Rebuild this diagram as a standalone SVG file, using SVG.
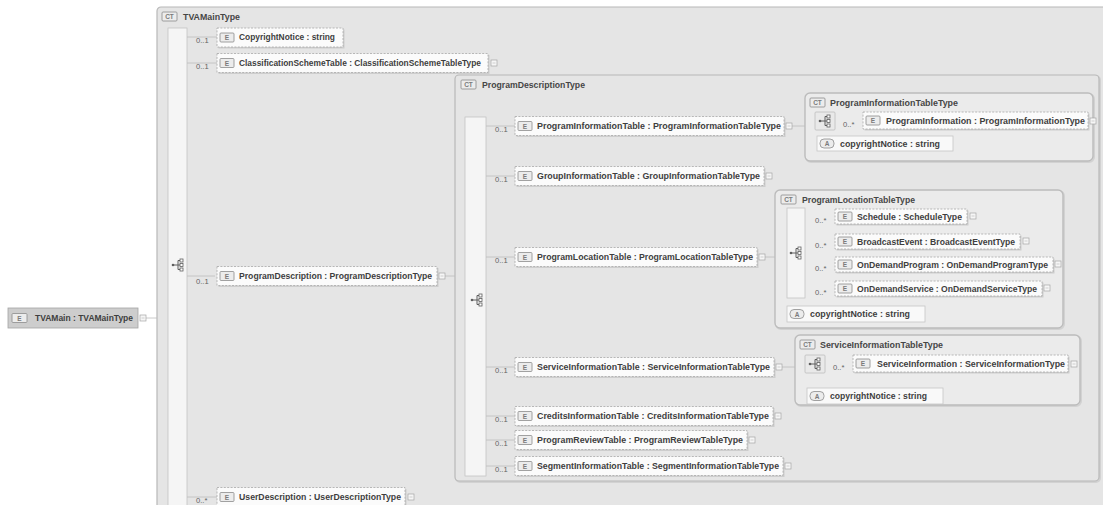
<svg xmlns="http://www.w3.org/2000/svg" xmlns:xlink="http://www.w3.org/1999/xlink" width="1103" height="505" viewBox="0 0 1103 505">
<defs>
<style>
.ct{fill:#e5e5e5;stroke:#b8b8b8;stroke-width:1.2}
.ctn{fill:#ebebeb;stroke:#bcbcbc;stroke-width:1.4}
.csh{fill:none;stroke:#d2d2d2;stroke-width:2}
.bar{fill:#f5f5f5;stroke:#c4c4c4;stroke-width:0.8}
.el{fill:#fbfbfb;stroke:#a8a8a8;stroke-width:0.8;stroke-dasharray:2 1.4}
.sh{fill:#cdcdcd}
.at{fill:#f9f9f9;stroke:#c6c6c6;stroke-width:0.8}
.ic{fill:#ececec;stroke:#8c8c8c;stroke-width:0.8}
.root{fill:#cdcdcd;stroke:#a4a4a4;stroke-width:0.8}
.t{font-family:"Liberation Sans",Arial,sans-serif;font-weight:bold;font-size:8.2px;fill:#3e3e3e}
.h{font-family:"Liberation Sans",Arial,sans-serif;font-weight:bold;font-size:8.2px;fill:#464646}
.ti{font-family:"Liberation Sans",Arial,sans-serif;font-weight:bold;font-size:6.5px;fill:#7a7a7a;text-anchor:middle}
.m{font-family:"Liberation Sans",Arial,sans-serif;font-size:7.6px;fill:#626262}
.ln{stroke:#bdbdbd;stroke-width:0.8;fill:none}
.sq{fill:#f6f6f6;stroke:#a5a5a5;stroke-width:0.7}
.sqi{stroke:#b5b5b5;stroke-width:0.6}
.si{fill:#e9e9e9;stroke:#bcbcbc;stroke-width:0.8}
</style>
<symbol id="exp" overflow="visible">
<rect class="sq" x="0" y="0" width="6" height="6"/>
<path class="sqi" d="M1.5 3H4.5"/>
</symbol>
<symbol id="seq" overflow="visible">
<circle cx="-5" cy="0" r="1.3" fill="#5e5e5e"/>
<path d="M-5 0H0M0 -4.5V4.5M0 -4.5H2M0 0H2M0 4.5H2" stroke="#5e5e5e" stroke-width="1" fill="none"/>
<rect x="2" y="-6" width="3" height="3" fill="#fff" stroke="#5e5e5e" stroke-width="0.8"/>
<rect x="2" y="-1.5" width="3" height="3" fill="#fff" stroke="#5e5e5e" stroke-width="0.8"/>
<rect x="2" y="3" width="3" height="3" fill="#fff" stroke="#5e5e5e" stroke-width="0.8"/>
</symbol>
</defs>

<rect width="1103" height="505" fill="#ffffff"/>

<!-- Complex type containers -->
<g id="ct-tvamaintype">
<rect class="ct" x="157" y="7" width="960" height="510" rx="4"/>
<rect class="ic" x="162" y="12" width="15" height="9" rx="1"/>
<text class="ti" x="169.5" y="19">CT</text>
<text class="h" x="183" y="20" textLength="57" lengthAdjust="spacingAndGlyphs">TVAMainType</text>
<rect class="bar" x="168" y="28" width="19" height="490"/>
<use xlink:href="#seq" x="178" y="265"/>
</g>

<g id="ct-programdescriptiontype">
<rect class="csh" x="456" y="76" width="644" height="406" rx="4"/>
<rect class="ct" x="455" y="75" width="644" height="406" rx="4"/>
<rect class="ic" x="461" y="80" width="15" height="9" rx="1"/>
<text class="ti" x="468.5" y="87">CT</text>
<text class="h" x="482" y="88" textLength="103" lengthAdjust="spacingAndGlyphs">ProgramDescriptionType</text>
<rect class="bar" x="465" y="117" width="21" height="359"/>
<use xlink:href="#seq" x="477" y="300"/>
</g>

<!-- Connectors -->
<g id="connectors">
<path class="ln" d="M146 318H157"/>
<path class="ln" d="M187 37H217M187 63H217M187 276H215M187 497H217"/>
<path class="ln" d="M445 276H455"/>
<path class="ln" d="M486 126H515M486 176H515M486 257H515M486 367H515M486 416H515M486 440H515M486 466H515"/>
<path class="ln" d="M792 126H805"/>
<path class="ln" d="M765 257H775"/>
<path class="ln" d="M782 367H795"/>
<path class="ln" d="M835 121H863M805 143H817"/>
<path class="ln" d="M805 217H835M805 242H835M805 265H835M805 289H835M775 314H787"/>
<path class="ln" d="M825 364H853M795 396H807"/>
</g>

<!-- Root element -->
<g id="n-tvamain">
<rect class="root" x="8" y="308" width="130" height="20"/>
<rect class="ic" x="12" y="313.5" width="15" height="9" rx="1"/>
<text class="ti" x="19.5" y="320.5">E</text>
<text class="t" x="35" y="321" textLength="98" lengthAdjust="spacingAndGlyphs">TVAMain : TVAMainType</text>
<use xlink:href="#exp" x="140" y="315"/>
</g>

<!-- TVAMainType children -->
<g id="n-copyrightnotice">
<text class="m" x="196" y="43">0..1</text>
<rect class="sh" x="218.5" y="29.5" width="126" height="19"/>
<rect class="el" x="217" y="28" width="126" height="19"/>
<rect class="ic" x="220" y="33" width="14" height="9" rx="1"/>
<text class="ti" x="227" y="40">E</text>
<text class="t" x="239" y="40" textLength="96" lengthAdjust="spacingAndGlyphs">CopyrightNotice : string</text>
</g>

<g id="n-classificationschemetable">
<text class="m" x="196" y="69">0..1</text>
<rect class="sh" x="218.5" y="55" width="271" height="19"/>
<rect class="el" x="217" y="53.5" width="271" height="19"/>
<rect class="ic" x="220" y="58.5" width="14" height="9" rx="1"/>
<text class="ti" x="227" y="65.5">E</text>
<text class="t" x="239" y="66" textLength="242" lengthAdjust="spacingAndGlyphs">ClassificationSchemeTable : ClassificationSchemeTableType</text>
<use xlink:href="#exp" x="491" y="60"/>
</g>

<g id="n-programdescription">
<text class="m" x="196" y="284">0..1</text>
<rect class="sh" x="218.5" y="268" width="220" height="19"/>
<rect class="el" x="217" y="266.5" width="220" height="19"/>
<rect class="ic" x="220" y="271.5" width="14" height="9" rx="1"/>
<text class="ti" x="227" y="278.5">E</text>
<text class="t" x="239" y="279" textLength="193" lengthAdjust="spacingAndGlyphs">ProgramDescription : ProgramDescriptionType</text>
<use xlink:href="#exp" x="439" y="273"/>
</g>

<g id="n-userdescription">
<text class="m" x="196" y="503">0..*</text>
<rect class="sh" x="218.5" y="489" width="188" height="19"/>
<rect class="el" x="217" y="487.5" width="188" height="19"/>
<rect class="ic" x="220" y="492.5" width="14" height="9" rx="1"/>
<text class="ti" x="227" y="499.5">E</text>
<text class="t" x="239" y="500" textLength="162" lengthAdjust="spacingAndGlyphs">UserDescription : UserDescriptionType</text>
<use xlink:href="#exp" x="408" y="494"/>
</g>

<!-- ProgramDescriptionType children -->
<g id="n-programinformationtable">
<text class="m" x="495" y="132">0..1</text>
<rect class="sh" x="516.5" y="118" width="269" height="19"/>
<rect class="el" x="515" y="116.5" width="269" height="19"/>
<rect class="ic" x="518" y="121.5" width="14" height="9" rx="1"/>
<text class="ti" x="525" y="128.5">E</text>
<text class="t" x="537" y="129" textLength="244" lengthAdjust="spacingAndGlyphs">ProgramInformationTable : ProgramInformationTableType</text>
<use xlink:href="#exp" x="786" y="123"/>
</g>

<g id="n-groupinformationtable">
<text class="m" x="495" y="182">0..1</text>
<rect class="sh" x="516.5" y="168" width="249" height="19"/>
<rect class="el" x="515" y="166.5" width="249" height="19"/>
<rect class="ic" x="518" y="171.5" width="14" height="9" rx="1"/>
<text class="ti" x="525" y="178.5">E</text>
<text class="t" x="537" y="179" textLength="223" lengthAdjust="spacingAndGlyphs">GroupInformationTable : GroupInformationTableType</text>
<use xlink:href="#exp" x="766" y="173"/>
</g>

<g id="n-programlocationtable">
<text class="m" x="495" y="263">0..1</text>
<rect class="sh" x="516.5" y="249" width="242" height="19"/>
<rect class="el" x="515" y="247.5" width="242" height="19"/>
<rect class="ic" x="518" y="252.5" width="14" height="9" rx="1"/>
<text class="ti" x="525" y="259.5">E</text>
<text class="t" x="537" y="260" textLength="216" lengthAdjust="spacingAndGlyphs">ProgramLocationTable : ProgramLocationTableType</text>
<use xlink:href="#exp" x="759" y="254"/>
</g>

<g id="n-serviceinformationtable">
<text class="m" x="495" y="373">0..1</text>
<rect class="sh" x="516.5" y="359" width="259" height="19"/>
<rect class="el" x="515" y="357.5" width="259" height="19"/>
<rect class="ic" x="518" y="362.5" width="14" height="9" rx="1"/>
<text class="ti" x="525" y="369.5">E</text>
<text class="t" x="537" y="370" textLength="233" lengthAdjust="spacingAndGlyphs">ServiceInformationTable : ServiceInformationTableType</text>
<use xlink:href="#exp" x="776" y="364"/>
</g>

<g id="n-creditsinformationtable">
<text class="m" x="495" y="422">0..1</text>
<rect class="sh" x="516.5" y="408" width="258" height="19"/>
<rect class="el" x="515" y="406.5" width="258" height="19"/>
<rect class="ic" x="518" y="411.5" width="14" height="9" rx="1"/>
<text class="ti" x="525" y="418.5">E</text>
<text class="t" x="537" y="419" textLength="232" lengthAdjust="spacingAndGlyphs">CreditsInformationTable : CreditsInformationTableType</text>
<use xlink:href="#exp" x="775" y="413"/>
</g>

<g id="n-programreviewtable">
<text class="m" x="495" y="446">0..1</text>
<rect class="sh" x="516.5" y="432" width="232" height="19"/>
<rect class="el" x="515" y="430.5" width="232" height="19"/>
<rect class="ic" x="518" y="435.5" width="14" height="9" rx="1"/>
<text class="ti" x="525" y="442.5">E</text>
<text class="t" x="537" y="443" textLength="206" lengthAdjust="spacingAndGlyphs">ProgramReviewTable : ProgramReviewTableType</text>
<use xlink:href="#exp" x="749" y="437"/>
</g>

<g id="n-segmentinformationtable">
<text class="m" x="495" y="472">0..1</text>
<rect class="sh" x="516.5" y="458" width="268" height="19"/>
<rect class="el" x="515" y="456.5" width="268" height="19"/>
<rect class="ic" x="518" y="461.5" width="14" height="9" rx="1"/>
<text class="ti" x="525" y="468.5">E</text>
<text class="t" x="537" y="469" textLength="242" lengthAdjust="spacingAndGlyphs">SegmentInformationTable : SegmentInformationTableType</text>
<use xlink:href="#exp" x="785" y="463"/>
</g>

<!-- ProgramInformationTableType -->
<g id="ct-programinformationtabletype">
<rect class="csh" x="806" y="94" width="288" height="68" rx="5"/>
<rect class="ctn" x="805" y="93" width="288" height="68" rx="5"/>
<rect class="ic" x="810" y="98" width="15" height="9" rx="1"/>
<text class="ti" x="817.5" y="105">CT</text>
<text class="h" x="830" y="106" textLength="128" lengthAdjust="spacingAndGlyphs">ProgramInformationTableType</text>
<rect class="si" x="815" y="112" width="20" height="18" rx="1"/>
<use xlink:href="#seq" x="825" y="121"/>
</g>
<g id="n-programinformation">
<text class="m" x="843" y="127">0..*</text>
<rect class="sh" x="864.5" y="113.5" width="225" height="17"/>
<rect class="el" x="863" y="112" width="225" height="17"/>
<rect class="ic" x="866" y="116" width="14" height="9" rx="1"/>
<text class="ti" x="873" y="123">E</text>
<text class="t" x="886" y="123.5" textLength="199" lengthAdjust="spacingAndGlyphs">ProgramInformation : ProgramInformationType</text>
<use xlink:href="#exp" x="1090" y="118"/>
</g>
<g id="a-pitt-copyrightnotice">
<rect class="at" x="817" y="136" width="136" height="15"/>
<rect class="ic" x="820" y="139" width="14" height="9" rx="4"/>
<text class="ti" x="827" y="146">A</text>
<text class="t" x="840" y="146.5" textLength="100" lengthAdjust="spacingAndGlyphs">copyrightNotice : string</text>
</g>

<!-- ProgramLocationTableType -->
<g id="ct-programlocationtabletype">
<rect class="csh" x="776" y="191" width="288" height="138" rx="5"/>
<rect class="ctn" x="775" y="190" width="288" height="138" rx="5"/>
<rect class="ic" x="781" y="195" width="15" height="9" rx="1"/>
<text class="ti" x="788.5" y="202">CT</text>
<text class="h" x="802" y="203" textLength="113" lengthAdjust="spacingAndGlyphs">ProgramLocationTableType</text>
<rect class="bar" x="787" y="208" width="18" height="90"/>
<use xlink:href="#seq" x="796" y="253"/>
</g>
<g id="n-schedule">
<text class="m" x="815" y="223">0..*</text>
<rect class="sh" x="836.5" y="210.5" width="132" height="15"/>
<rect class="el" x="835" y="209" width="132" height="15"/>
<rect class="ic" x="838" y="212" width="14" height="9" rx="1"/>
<text class="ti" x="845" y="219">E</text>
<text class="t" x="857" y="219.5" textLength="105" lengthAdjust="spacingAndGlyphs">Schedule : ScheduleType</text>
<use xlink:href="#exp" x="970" y="213"/>
</g>
<g id="n-broadcastevent">
<text class="m" x="815" y="248">0..*</text>
<rect class="sh" x="836.5" y="235.5" width="185" height="15"/>
<rect class="el" x="835" y="234" width="185" height="15"/>
<rect class="ic" x="838" y="237" width="14" height="9" rx="1"/>
<text class="ti" x="845" y="244">E</text>
<text class="t" x="857" y="244.5" textLength="158" lengthAdjust="spacingAndGlyphs">BroadcastEvent : BroadcastEventType</text>
<use xlink:href="#exp" x="1023" y="238"/>
</g>
<g id="n-ondemandprogram">
<text class="m" x="815" y="271">0..*</text>
<rect class="sh" x="836.5" y="258.5" width="218" height="15"/>
<rect class="el" x="835" y="257" width="218" height="15"/>
<rect class="ic" x="838" y="260" width="14" height="9" rx="1"/>
<text class="ti" x="845" y="267">E</text>
<text class="t" x="857" y="267.5" textLength="191" lengthAdjust="spacingAndGlyphs">OnDemandProgram : OnDemandProgramType</text>
<use xlink:href="#exp" x="1055" y="261"/>
</g>
<g id="n-ondemandservice">
<text class="m" x="815" y="295">0..*</text>
<rect class="sh" x="836.5" y="282.5" width="207" height="15"/>
<rect class="el" x="835" y="281" width="207" height="15"/>
<rect class="ic" x="838" y="284" width="14" height="9" rx="1"/>
<text class="ti" x="845" y="291">E</text>
<text class="t" x="857" y="291.5" textLength="180" lengthAdjust="spacingAndGlyphs">OnDemandService : OnDemandServiceType</text>
<use xlink:href="#exp" x="1044" y="285"/>
</g>
<g id="a-pltt-copyrightnotice">
<rect class="at" x="787" y="306" width="138" height="16"/>
<rect class="ic" x="790" y="309.5" width="14" height="9" rx="4"/>
<text class="ti" x="797" y="316.5">A</text>
<text class="t" x="810" y="317" textLength="100" lengthAdjust="spacingAndGlyphs">copyrightNotice : string</text>
</g>

<!-- ServiceInformationTableType -->
<g id="ct-serviceinformationtabletype">
<rect class="csh" x="796" y="336" width="285" height="70" rx="5"/>
<rect class="ctn" x="795" y="335" width="285" height="70" rx="5"/>
<rect class="ic" x="800" y="340" width="15" height="9" rx="1"/>
<text class="ti" x="807.5" y="347">CT</text>
<text class="h" x="820" y="347.5" textLength="123" lengthAdjust="spacingAndGlyphs">ServiceInformationTableType</text>
<rect class="si" x="805" y="355" width="20" height="18" rx="1"/>
<use xlink:href="#seq" x="815" y="364"/>
</g>
<g id="n-serviceinformation">
<text class="m" x="833" y="370">0..*</text>
<rect class="sh" x="854.5" y="356.5" width="215" height="17"/>
<rect class="el" x="853" y="355" width="215" height="17"/>
<rect class="ic" x="856" y="359" width="14" height="9" rx="1"/>
<text class="ti" x="863" y="366">E</text>
<text class="t" x="877" y="366.5" textLength="188" lengthAdjust="spacingAndGlyphs">ServiceInformation : ServiceInformationType</text>
<use xlink:href="#exp" x="1071" y="361"/>
</g>
<g id="a-sitt-copyrightnotice">
<rect class="at" x="807" y="388" width="136" height="16"/>
<rect class="ic" x="810" y="391.5" width="14" height="9" rx="4"/>
<text class="ti" x="817" y="398.5">A</text>
<text class="t" x="830" y="399" textLength="97" lengthAdjust="spacingAndGlyphs">copyrightNotice : string</text>
</g>
</svg>
